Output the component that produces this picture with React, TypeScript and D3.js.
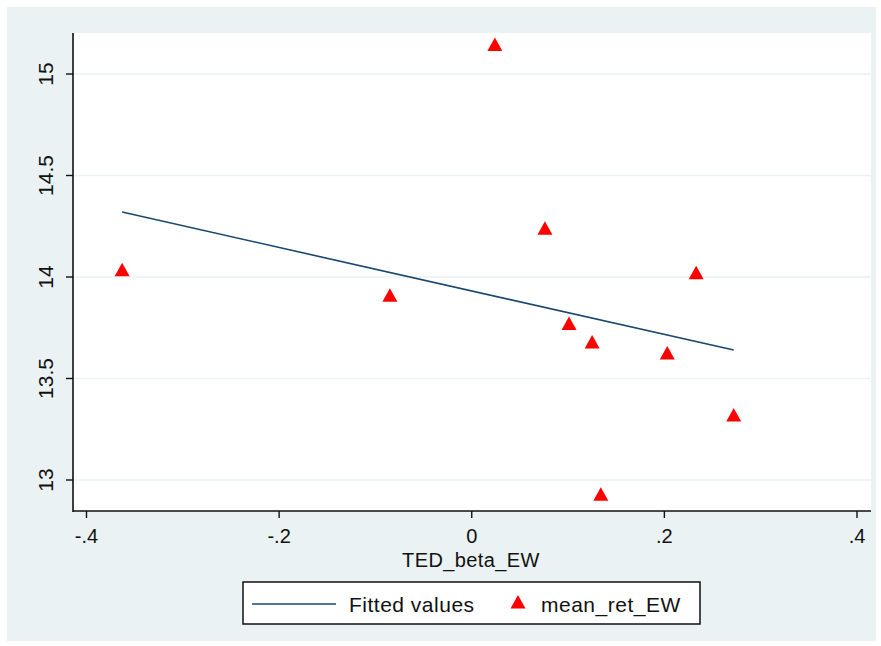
import * as d3 from "d3";

// scatter points
const betaEW = [-0.363, 0.024, 0.076, -0.085, 0.233, 0.101, 0.125, 0.203, 0.272, 0.134];
const meanRetEW = [14.03, 15.14, 14.235, 13.905, 14.015, 13.765, 13.675, 13.62, 13.315, 12.925];

// fitted line end points
const fitX = [-0.363, 0.272];
const fitY = [14.32, 13.64];

const xTicks = [-0.4, -0.2, 0, 0.2, 0.4];
const xTickLabels = ["-.4", "-.2", "0", ".2", ".4"];
const yTicks = [13, 13.5, 14, 14.5, 15];
const yTickLabels = ["13", "13.5", "14", "14.5", "15"];

const W = 881;
const H = 646;
const plot = { left: 73, right: 871, top: 33, bottom: 511 };
const bg = "#eaf2f3";
const navy = "#1a476f";
const font = "'Liberation Sans', Arial, sans-serif";

function tri(cx: number, cy: number, s = 15) {
  const h = s * 0.9;
  return `M${cx},${cy - h * 0.6}L${cx + s / 2},${cy + h * 0.4}L${cx - s / 2},${cy + h * 0.4}Z`;
}

export default function App() {
  const x = d3.scaleLinear().domain([-0.4, 0.4]).range([86.5, 857]);
  const y = d3.scaleLinear().domain([13, 15]).range([480, 74]);
  const line = d3
    .line<number>()
    .x((_, i) => x(fitX[i]))
    .y((d) => y(d));

  return (
    <svg width={W} height={H} style={{ position: "absolute", left: 0, top: 0 }}>
      <rect x={0} y={0} width={W} height={H} fill="#fff" />
      <rect x={7} y={7} width={869} height={634} fill={bg} />
      <rect x={plot.left} y={plot.top} width={plot.right - plot.left} height={plot.bottom - plot.top} fill="#fff" />

      {/* grid */}
      {yTicks.map((t) => (
        <line key={t} x1={plot.left} x2={plot.right} y1={y(t)} y2={y(t)} stroke={bg} strokeWidth={1.5} />
      ))}

      {/* axes */}
      <line x1={plot.left} x2={plot.left} y1={plot.top} y2={plot.bottom + 1} stroke="#111" strokeWidth={1.6} />
      <line x1={plot.left} x2={plot.right} y1={plot.bottom} y2={plot.bottom} stroke="#111" strokeWidth={1.6} />

      {yTicks.map((t, i) => (
        <g key={"y" + t}>
          <line x1={plot.left - 7} x2={plot.left} y1={y(t)} y2={y(t)} stroke="#111" strokeWidth={1.4} />
          <text
            transform={`translate(53,${y(t)}) rotate(-90)`}
            textAnchor="middle"
            fontFamily={font}
            fontSize={21}
            fill="#111"
          >
            {yTickLabels[i]}
          </text>
        </g>
      ))}

      {xTicks.map((t, i) => (
        <g key={"x" + t}>
          <line x1={x(t)} x2={x(t)} y1={plot.bottom} y2={plot.bottom + 7} stroke="#111" strokeWidth={1.4} />
          <text x={x(t)} y={543} textAnchor="middle" fontFamily={font} fontSize={20} fill="#111">
            {xTickLabels[i]}
          </text>
        </g>
      ))}

      <text x={471} y={567} textAnchor="middle" fontFamily={font} fontSize={20} fill="#111" letterSpacing={0.4}>
        TED_beta_EW
      </text>

      {/* fitted line */}
      <path d={line(fitY) ?? ""} fill="none" stroke={navy} strokeWidth={1.6} />

      {/* points */}
      {betaEW.map((b, i) => (
        <path key={i} d={tri(x(b), y(meanRetEW[i]))} fill="#ff0000" />
      ))}

      {/* legend */}
      <rect x={243} y={582} width={457} height={42} fill="#fff" stroke="#111" strokeWidth={1.5} />
      <line x1={252} x2={336} y1={604} y2={604} stroke={navy} strokeWidth={1.6} />
      <text x={349} y={612} fontFamily={font} fontSize={21} fill="#111" letterSpacing={0.5}>
        Fitted values
      </text>
      <path d={tri(518, 603, 15)} fill="#ff0000" />
      <text x={541} y={612} fontFamily={font} fontSize={21} fill="#111" letterSpacing={0.5}>
        mean_ret_EW
      </text>
    </svg>
  );
}
